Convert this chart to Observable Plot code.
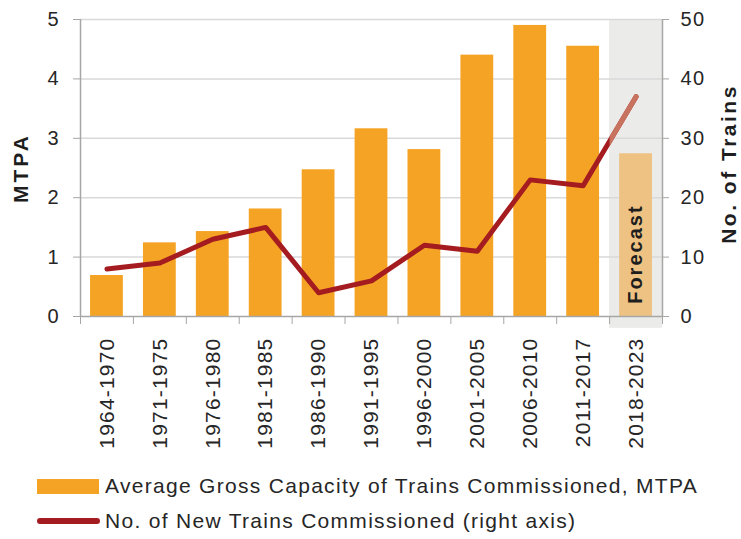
<!DOCTYPE html>
<html><head><meta charset="utf-8">
<script src="https://cdn.jsdelivr.net/npm/d3@7"></script>
<script src="https://cdn.jsdelivr.net/npm/@observablehq/plot@0.6"></script>
<style>
body{margin:0;background:#fff;font-family:"Liberation Sans",Arial,sans-serif;}
#wrap{position:relative;width:741px;height:539px;overflow:hidden;}
#wrap svg{display:block;}
.leg{position:absolute;left:37px;height:24px;display:flex;align-items:center;font-size:21px;color:#262626;letter-spacing:1.3px;white-space:nowrap;}
.sw1{width:62px;height:15px;background:#f5a324;margin-right:6px;}
.sw2{width:63px;height:6px;border-radius:3px;background:#a51c20;margin-right:5px;}
</style></head><body>
<div id="wrap"></div>
<script>
const periods = ["1964-1970","1971-1975","1976-1980","1981-1985","1986-1990","1991-1995","1996-2000","2001-2005","2006-2010","2011-2017","2018-2023"];
const capacity = [0.69,1.24,1.43,1.81,2.47,3.16,2.81,4.40,4.90,4.55,2.74];
const trains = [8,9,13,15,4,6,12,11,23,22,37];
const isForecast = [false,false,false,false,false,false,false,false,false,false,true];
const leftTicks = [0,1,2,3,4,5];
const rightTicks = [0,10,20,30,40,50];
const legendLabels = ["Average Gross Capacity of Trains Commissioned, MTPA","No. of New Trains Commissioned (right axis)"];
const forecastLabel = ["Forecast"];
const axisTitles = ["MTPA","No. of Trains"];

const rows = periods.map((p,i)=>({period:p,i,cap:capacity[i],trains:trains[i],forecast:isForecast[i]}));
const fc = rows.filter(d=>d.forecast);
const axisColor = "#a6a6a6";
const textColor = "#262626";
const segColor = "#c8735f";

const plot = Plot.plot({
  width:741, height:468,
  marginLeft:80, marginRight:79, marginTop:19, marginBottom:152,
  x:{domain:[0,11]},
  y:{domain:[0,5]},
  style:{fontFamily:"Liberation Sans, Arial, sans-serif", background:"#fff", overflow:"visible"},
  marks:[
    Plot.rect(fc,{x1:d=>d.i,x2:d=>d.i+1,y1:-0.2,y2:5,fill:"#ebebea"}),
    Plot.ruleY(leftTicks.slice(1),{stroke:"#d9d9d9",strokeWidth:1.5}),
    Plot.rect(rows,{x1:d=>d.i+0.19,x2:d=>d.i+0.81,y1:0,y2:"cap",fill:d=>d.forecast?"#eec283":"#f5a324"}),
    Plot.ruleX([0],{y1:0,y2:5,stroke:axisColor,strokeWidth:1.5}),
    Plot.ruleX([11],{y1:0,y2:5,stroke:axisColor,strokeWidth:1.5}),
    Plot.ruleY([0],{stroke:axisColor,strokeWidth:1.5}),
    Plot.axisY({ticks:leftTicks,tickFormat:d=>String(d),tickSize:7,tickPadding:15,fontSize:20,stroke:axisColor,fill:textColor,label:null}),
    Plot.axisY({anchor:"right",ticks:rightTicks.map(v=>v/10),tickFormat:d=>String(Math.round(d*10)),tickSize:6,tickPadding:12,fontSize:20,stroke:axisColor,fill:textColor,label:null}),
    Plot.axisX({ticks:d3.range(12),tickFormat:()=>"",tickSize:8,stroke:axisColor,label:null}),
    Plot.text(rows,{x:d=>d.i+0.5,y:0,text:"period",rotate:-90,textAnchor:"end",dy:21,fontSize:21,fill:textColor}),
    Plot.line(rows,{x:d=>d.i+0.5,y:d=>d.trains/10,stroke:"#a51c20",strokeWidth:5,strokeLinejoin:"round",strokeLinecap:"round"}),
    Plot.line(rows.slice(-2),{x:d=>d.i+0.5,y:d=>d.trains/10,stroke:segColor,strokeWidth:5,strokeLinejoin:"round",strokeLinecap:"round"}),
    Plot.text(forecastLabel,{x:fc[0].i+0.5,y:1.05,text:d=>d,rotate:-90,textAnchor:"middle",fontSize:20,fontWeight:"bold",fill:"#1e1e1e"}),
    Plot.text([axisTitles[0]],{frameAnchor:"left",dx:-59,rotate:-90,textAnchor:"middle",fontSize:21,fontWeight:"bold",fill:"#1e1e1e"}),
    Plot.text([axisTitles[1]],{frameAnchor:"right",dx:67,dy:-4,rotate:-90,textAnchor:"middle",fontSize:21,fontWeight:"bold",fill:"#1e1e1e"})
  ]
});

const wrap = document.getElementById("wrap");
wrap.appendChild(plot);
const svg = d3.select(plot);
const xs = plot.scale("x");
const x0 = xs.apply(fc[0].i);
svg.append("defs").append("clipPath").attr("id","fcclip")
  .append("rect").attr("x",x0).attr("y",0).attr("width",741-x0).attr("height",468);
svg.selectAll(`g[stroke="${segColor}"]`).attr("clip-path","url(#fcclip)");
const byText = (list, ls) => svg.selectAll("text").filter(function(){return list.includes(this.textContent);}).style("letter-spacing",ls);
byText(periods,"1.2px");
byText(forecastLabel,"2px");
byText([axisTitles[0]],"3px");
byText([axisTitles[1]],"2.5px");
svg.selectAll('g[text-anchor="start"] text').style("letter-spacing","1.5px");

const l1 = document.createElement("div");
l1.className="leg"; l1.style.top="474px";
l1.innerHTML='<span class="sw1"></span><span></span>';
l1.lastChild.textContent = legendLabels[0];
const l2 = document.createElement("div");
l2.className="leg"; l2.style.top="509px";
l2.innerHTML='<span class="sw2"></span><span></span>';
l2.lastChild.textContent = legendLabels[1];
wrap.appendChild(l1); wrap.appendChild(l2);
</script>
</body></html>
